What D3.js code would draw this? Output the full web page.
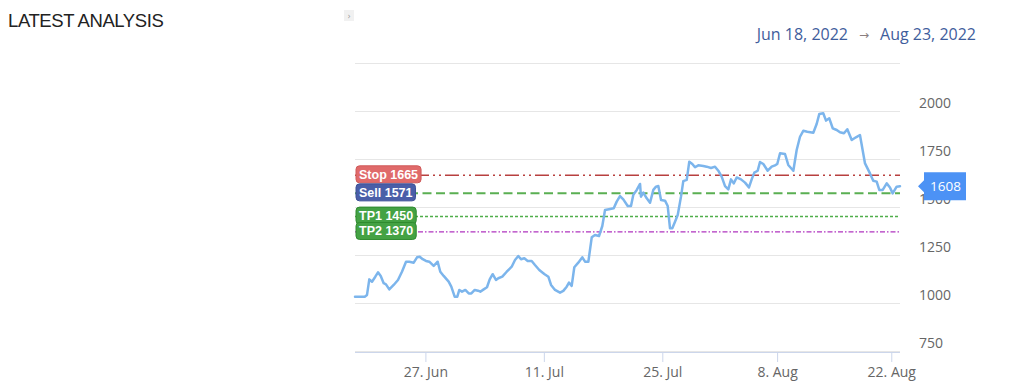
<!DOCTYPE html>
<html>
<head>
<meta charset="utf-8">
<script src="https://cdn.jsdelivr.net/npm/d3@7"></script>
<style>
  html, body { margin: 0; padding: 0; background: #fff; }
  svg { display: block; }
</style>
</head>
<body>
<svg id="chart" width="1024" height="390"></svg>
<script>
// ---------- data ----------
const baseDate = Date.UTC(2022, 5, 18); // Jun 18, 2022
// day offsets (fractional days since Jun 18, 2022 00:00 UTC)
const days = [0.68,1.83,2.10,2.37,2.69,3.08,3.40,3.72,4.07,4.34,
  4.73,5.25,5.76,6.23,6.71,7.10,7.62,8.01,8.33,8.68,
  9.07,9.46,9.98,10.45,10.76,11.16,11.75,12.06,12.46,12.77,
  13.01,13.33,13.72,14.12,14.43,14.83,15.22,15.49,15.89,16.28,
  16.60,16.95,17.34,17.62,18.09,18.61,19.20,19.59,19.98,20.30,
  20.69,21.09,21.56,21.95,22.46,23.05,23.53,23.85,24.32,24.91,
  25.30,25.70,25.97,26.29,26.60,27.07,27.55,27.87,28.26,28.66,
  29.05,29.52,29.91,30.23,30.70,31.26,31.61,32.00,32.39,32.91,
  33.30,33.57,33.98,34.37,34.48,34.76,35.16,35.55,35.94,36.26,
  36.53,36.85,37.33,37.66,37.94,38.22,38.55,38.88,39.28,39.56,
  39.98,40.29,40.66,40.99,41.39,42.00,42.41,42.94,43.43,43.83,
  44.24,44.65,45.05,45.38,45.71,46.07,46.60,47.09,47.57,47.90,
  48.22,48.63,48.91,49.32,49.85,50.34,50.74,51.02,51.36,51.97,
  52.37,52.99,53.40,53.81,54.21,54.70,55.44,55.85,56.17,56.66,
  57.00,57.40,57.82,58.31,58.71,59.20,59.61,60.15,60.67,61.16,
  61.78,62.39,62.79,63.21,63.53,63.95,64.44,64.84,65.17,65.66,
  66.07];
const prices = [1033,1033,1042,1123,1111,1137,1160,1141,1103,1097,
  1071,1094,1120,1163,1215,1215,1210,1238,1241,1228,
  1219,1215,1193,1215,1163,1141,1111,1085,1033,1033,
  1068,1059,1068,1050,1050,1068,1064,1059,1071,1082,
  1123,1150,1120,1129,1137,1163,1189,1224,1245,1228,
  1233,1219,1219,1198,1172,1151,1137,1094,1068,1054,
  1063,1085,1106,1089,1186,1210,1238,1215,1215,1342,
  1354,1349,1401,1484,1488,1493,1528,1557,1540,1505,
  1505,1563,1589,1620,1554,1575,1545,1522,1589,1606,
  1609,1536,1533,1505,1389,1389,1423,1458,1554,1635,
  1641,1736,1724,1707,1717,1714,1710,1703,1710,1689,
  1658,1609,1592,1644,1623,1654,1644,1627,1602,1644,
  1679,1689,1734,1724,1689,1710,1717,1724,1780,1776,
  1719,1689,1797,1866,1897,1892,1887,1932,1984,1988,
  1950,1962,1910,1901,1889,1884,1905,1849,1863,1875,
  1727,1675,1637,1632,1589,1589,1623,1602,1571,1606,
  1608];

const planNames  = ["Stop", "Sell", "TP1", "TP2"];
const planValues = [1665, 1571, 1450, 1370];

const xTickDates = ["2022-06-27", "2022-07-11", "2022-07-25", "2022-08-08", "2022-08-22"];
const yTickValues = [750, 1000, 1250, 1500, 1750, 2000, 2250];
const yLabelValues = [750, 1000, 1250, 1500, 1750, 2000];

const titleText = "LATEST ANALYSIS";
const rangeFrom = "Jun 18, 2022";
const rangeTo = "Aug 23, 2022";

// ---------- styles ----------
const planLineColors = ["#b8403f", "#5aaf52", "#4fae4a", "#b035bf"];
const planLabelFills = ["#e06a6a", "#4a5ea8", "#44a244", "#44a244"];
const planLabelStrokes = ["#cf5a5a", "#3d5096", "#2f8a2f", "#2f8a2f"];
const planDash = ["14,4,2,4,2,4", "9,4.5", "3,2", "5,2,1.5,2"];
const planWidth = [1.5, 2, 1.5, 1.3];

// ---------- build ----------
const svg = d3.select("#chart");
const plotL = 355, plotR = 900, plotT = 63, plotB = 351;

const toDate = d => new Date(baseDate + d * 864e5);
const data = days.map((d, i) => ({ date: toDate(d), value: prices[i] }));
const tickDates = xTickDates.map(s => new Date(s + "T00:00:00Z"));

// ordinal-like (piecewise) time axis as in the source chart
const x = d3.scaleUtc()
  .domain([data[0].date, tickDates[0], tickDates[2], tickDates[3], data[data.length - 1].date])
  .range([plotL, 425.4, 662.3, 777.1, plotR]);

const y = d3.scaleLinear().domain([750, 2250]).range([plotB, plotT]);

// title
svg.append("text")
  .attr("x", 8).attr("y", 26.5)
  .attr("font-family", "Liberation Sans, Arial, sans-serif")
  .attr("font-size", 18.5).attr("letter-spacing", -0.4)
  .attr("fill", "#222")
  .text(titleText);

// small collapse button
svg.append("rect").attr("x", 344).attr("y", 10).attr("width", 10).attr("height", 11)
  .attr("fill", "#f1f1f1");
svg.append("text").attr("x", 349).attr("y", 18.5).attr("text-anchor", "middle")
  .attr("font-family", "DejaVu Sans, sans-serif").attr("font-size", 8).attr("fill", "#999")
  .text("›");

// date range
const rg = svg.append("text")
  .attr("x", 976).attr("y", 40).attr("text-anchor", "end")
  .attr("font-family", "Open Sans, sans-serif").attr("font-size", 16)
  .attr("fill", "#3f5d9c");
rg.append("tspan").text(rangeFrom);
rg.append("tspan").attr("fill", "#8a7f80").attr("font-family", "DejaVu Sans, sans-serif")
  .attr("font-size", 12).attr("dx", 11).attr("dy", -1).text("→");
rg.append("tspan").attr("dx", 11).attr("dy", 1).text(rangeTo);

// gridlines
svg.append("g").selectAll("line").data(yTickValues).join("line")
  .attr("x1", plotL).attr("x2", plotR)
  .attr("y1", d => Math.round(y(d)) + 0.5).attr("y2", d => Math.round(y(d)) + 0.5)
  .attr("stroke", "#e6e6e6").attr("stroke-width", 1);

// y labels (right side)
const yAxis = d3.axisRight(y).tickValues(yLabelValues).tickFormat(d3.format("d"))
  .tickSize(0).tickPadding(0);
const yg = svg.append("g").attr("transform", `translate(${919},0)`).call(yAxis);
yg.select(".domain").remove();
yg.selectAll("text")
  .attr("font-family", "Open Sans, sans-serif").attr("font-size", 14)
  .attr("fill", "#666").attr("dy", "-0.25em");

// x axis
const xAxis = d3.axisBottom(x).tickValues(tickDates)
  .tickFormat(d3.utcFormat("%-d. %b")).tickSize(10).tickPadding(5);
const xg = svg.append("g").attr("transform", `translate(0,${plotB + 1})`).call(xAxis);
xg.select(".domain").attr("stroke", "#ccd6eb").attr("d", `M${plotL},0.5H${plotR}`);
xg.selectAll(".tick line").attr("stroke", "#ccd6eb");
xg.selectAll("text")
  .attr("font-family", "Open Sans, sans-serif").attr("font-size", 14).attr("fill", "#666");

// plan lines
const planG = svg.append("g");
planValues.forEach((v, i) => {
  planG.append("line")
    .attr("x1", plotL).attr("x2", plotR)
    .attr("y1", y(v)).attr("y2", y(v))
    .attr("stroke", planLineColors[i]).attr("stroke-width", planWidth[i])
    .attr("stroke-dasharray", planDash[i]);
});

// price line
const line = d3.line().x(d => x(d.date)).y(d => y(d.value)).curve(d3.curveLinear);
svg.append("path").datum(data)
  .attr("d", line).attr("fill", "none")
  .attr("stroke", "#7cb5ec").attr("stroke-width", 2.5)
  .attr("stroke-linejoin", "round").attr("stroke-linecap", "round");

// plan labels
planValues.forEach((v, i) => {
  const g = svg.append("g");
  const cy = y(v);
  const t = g.append("text")
    .attr("x", 359).attr("y", cy + 3.3)
    .attr("font-family", "Liberation Sans, Arial, sans-serif")
    .attr("font-size", 12.5).attr("font-weight", "bold").attr("fill", "#fff")
    .text(planNames[i] + " " + planValues[i]);
  const w = t.node().getComputedTextLength();
  g.insert("rect", "text")
    .attr("x", 356).attr("y", cy - 9.5).attr("width", w + 6).attr("height", 17)
    .attr("rx", 3.5).attr("fill", planLabelFills[i])
    .attr("stroke", planLabelStrokes[i]).attr("stroke-width", 1);
});

// last price callout
const last = data[data.length - 1];
const ly = y(last.value);
const cg = svg.append("g");
cg.append("path")
  .attr("d", `M918,${ly} L924,${ly - 6} L924,${ly - 14} L966,${ly - 14} L966,${ly + 14} L924,${ly + 14} L924,${ly + 6} Z`)
  .attr("fill", "#4c92f5");
cg.append("text")
  .attr("x", 945.5).attr("y", ly + 5).attr("text-anchor", "middle")
  .attr("font-family", "Open Sans, sans-serif").attr("font-size", 13.5).attr("fill", "#fff")
  .text(String(last.value));
</script>
</body>
</html>
